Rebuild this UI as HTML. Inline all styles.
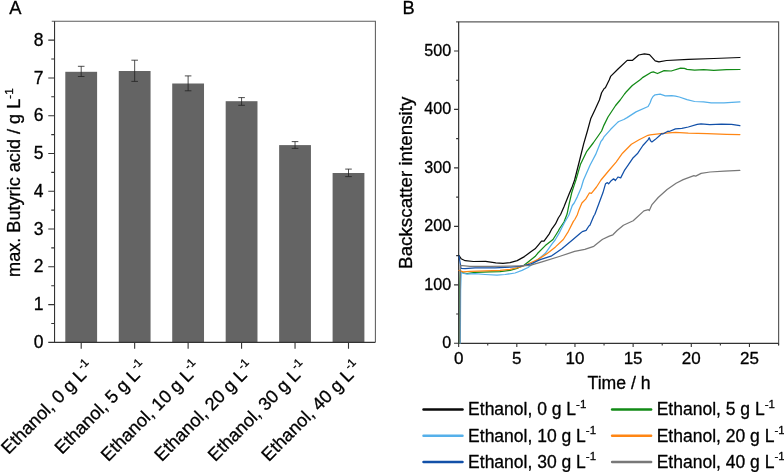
<!DOCTYPE html>
<html lang="en"><head><meta charset="utf-8"><title>Figure</title>
<style>html,body{margin:0;padding:0;background:#fff}svg{display:block}text{font-family:"Liberation Sans",Arial,Helvetica,sans-serif;fill:#000;stroke:#000;stroke-width:0.3px;stroke-linejoin:round}</style>
</head><body>
<svg width="784" height="472" viewBox="0 0 784 472">
<rect width="784" height="472" fill="#fff"/>
<text x="9.3" y="13.6" font-size="18.3">A</text>
<rect x="65.30" y="71.80" width="31.80" height="270.55" fill="#646464"/>
<rect x="118.76" y="71.00" width="31.80" height="271.35" fill="#646464"/>
<rect x="172.22" y="83.50" width="31.80" height="258.85" fill="#646464"/>
<rect x="225.68" y="101.20" width="31.80" height="241.15" fill="#646464"/>
<rect x="279.14" y="145.10" width="31.80" height="197.25" fill="#646464"/>
<rect x="332.60" y="173.00" width="31.80" height="169.35" fill="#646464"/>
<path d="M81.20 66.30V76.50M77.90 66.30h6.6M77.90 76.50h6.6" stroke="#222" stroke-width="0.8" fill="none"/>
<path d="M134.66 60.20V81.40M131.36 60.20h6.6M131.36 81.40h6.6" stroke="#222" stroke-width="0.8" fill="none"/>
<path d="M188.12 75.90V90.80M184.82 75.90h6.6M184.82 90.80h6.6" stroke="#222" stroke-width="0.8" fill="none"/>
<path d="M241.58 97.60V105.30M238.28 97.60h6.6M238.28 105.30h6.6" stroke="#222" stroke-width="0.8" fill="none"/>
<path d="M295.04 141.60V148.40M291.74 141.60h6.6M291.74 148.40h6.6" stroke="#222" stroke-width="0.8" fill="none"/>
<path d="M348.50 169.10V176.60M345.20 169.10h6.6M345.20 176.60h6.6" stroke="#222" stroke-width="0.8" fill="none"/>
<path d="M51.75 21.30H375.40V342.35" fill="none" stroke="#5c5c5c" stroke-width="1.05"/>
<path d="M54.55 21.30V342.35H375.40" fill="none" stroke="#333" stroke-width="1.1"/>
<text x="43.6" y="347.95" font-size="17.5" text-anchor="end">0</text>
<text x="43.6" y="310.18" font-size="17.5" text-anchor="end">1</text>
<text x="43.6" y="272.40" font-size="17.5" text-anchor="end">2</text>
<text x="43.6" y="234.63" font-size="17.5" text-anchor="end">3</text>
<text x="43.6" y="196.85" font-size="17.5" text-anchor="end">4</text>
<text x="43.6" y="159.08" font-size="17.5" text-anchor="end">5</text>
<text x="43.6" y="121.30" font-size="17.5" text-anchor="end">6</text>
<text x="43.6" y="83.53" font-size="17.5" text-anchor="end">7</text>
<text x="43.6" y="45.75" font-size="17.5" text-anchor="end">8</text>
<path d="M54.55 342.35h-6.3M54.55 323.46h-3.3M54.55 304.58h-6.3M54.55 285.69h-3.3M54.55 266.80h-6.3M54.55 247.91h-3.3M54.55 229.03h-6.3M54.55 210.14h-3.3M54.55 191.25h-6.3M54.55 172.36h-3.3M54.55 153.48h-6.3M54.55 134.59h-3.3M54.55 115.70h-6.3M54.55 96.81h-3.3M54.55 77.93h-6.3M54.55 59.04h-3.3M54.55 40.15h-6.3M81.20 342.35v6.3M134.66 342.35v6.3M188.12 342.35v6.3M241.58 342.35v6.3M295.04 342.35v6.3M348.50 342.35v6.3" stroke="#333" stroke-width="1.1" fill="none"/>
<text transform="translate(20.4 276.9) rotate(-90)" font-size="18.13">max. Butyric acid / g L<tspan dy="-7.5" font-size="11.7">-1</tspan></text>
<text transform="translate(94.80 368.7) rotate(-45)" font-size="18.1" text-anchor="end">Ethanol, 0 g L<tspan dy="-7.8" font-size="11.7">-1</tspan></text>
<text transform="translate(148.26 368.7) rotate(-45)" font-size="18.1" text-anchor="end">Ethanol, 5 g L<tspan dy="-7.8" font-size="11.7">-1</tspan></text>
<text transform="translate(201.72 368.7) rotate(-45)" font-size="18.1" text-anchor="end">Ethanol, 10 g L<tspan dy="-7.8" font-size="11.7">-1</tspan></text>
<text transform="translate(255.18 368.7) rotate(-45)" font-size="18.1" text-anchor="end">Ethanol, 20 g L<tspan dy="-7.8" font-size="11.7">-1</tspan></text>
<text transform="translate(308.64 368.7) rotate(-45)" font-size="18.1" text-anchor="end">Ethanol, 30 g L<tspan dy="-7.8" font-size="11.7">-1</tspan></text>
<text transform="translate(362.10 368.7) rotate(-45)" font-size="18.1" text-anchor="end">Ethanol, 40 g L<tspan dy="-7.8" font-size="11.7">-1</tspan></text>
<text x="402.5" y="13.7" font-size="18.3">B</text>
<path d="M456.05 21.85H778.60V345.30" fill="none" stroke="#5c5c5c" stroke-width="1.2"/>
<path d="M458.65 21.85V343.30H778.60" fill="none" stroke="#333" stroke-width="1.2"/>
<text x="451.1" y="348.00" font-size="16.1" text-anchor="end">0</text>
<text x="451.1" y="289.53" font-size="16.1" text-anchor="end">100</text>
<text x="451.1" y="231.06" font-size="16.1" text-anchor="end">200</text>
<text x="451.1" y="172.59" font-size="16.1" text-anchor="end">300</text>
<text x="451.1" y="114.12" font-size="16.1" text-anchor="end">400</text>
<text x="451.1" y="55.65" font-size="16.1" text-anchor="end">500</text>
<text x="458.65" y="364.2" font-size="17.0" text-anchor="middle">0</text>
<text x="516.81" y="364.2" font-size="17.0" text-anchor="middle">5</text>
<text x="574.97" y="364.2" font-size="17.0" text-anchor="middle">10</text>
<text x="633.13" y="364.2" font-size="17.0" text-anchor="middle">15</text>
<text x="691.29" y="364.2" font-size="17.0" text-anchor="middle">20</text>
<text x="749.45" y="364.2" font-size="17.0" text-anchor="middle">25</text>
<path d="M458.65 343.30h-4.6M458.65 314.06h-2.5M458.65 284.83h-4.6M458.65 255.60h-2.5M458.65 226.36h-4.6M458.65 197.12h-2.5M458.65 167.89h-4.6M458.65 138.66h-2.5M458.65 109.42h-4.6M458.65 80.19h-2.5M458.65 50.95h-4.6M458.65 343.30v3.6M487.73 343.30v2.3M516.81 343.30v3.6M545.89 343.30v2.3M574.97 343.30v3.6M604.05 343.30v2.3M633.13 343.30v3.6M662.21 343.30v2.3M691.29 343.30v3.6M720.37 343.30v2.3M749.45 343.30v3.6M778.53 343.30v2.3" stroke="#333" stroke-width="1.1" fill="none"/>
<text transform="translate(412 268.9) rotate(-90)" font-size="18.8">Backscatter intensity</text>
<text x="619.1" y="389.2" font-size="17.65" text-anchor="middle">Time / h</text>
<polyline points="459.0,255.5 461.1,258.7 465.2,260.7 473.4,261.5 485.6,261.4 495.8,262.8 503.0,263.4 510.1,262.7 517.2,260.6 524.4,256.6 530.5,252.0 535.1,248.8 538.9,244.3 541.5,241.1 544.0,241.1 549.1,234.1 551.9,228.8 555.5,223.9 558.3,218.0 560.6,214.5 564.0,206.8 569.1,194.0 572.3,186.4 574.6,180.0 579.8,159.5 583.6,144.2 587.4,131.0 590.7,118.8 595.2,109.3 599.4,100.0 601.6,92.8 604.2,88.5 605.4,87.7 609.2,80.0 610.6,76.4 618.3,68.7 627.2,60.4 632.3,60.4 638.7,55.0 644.4,53.8 649.5,54.7 655.2,60.9 658.9,61.9 666.6,60.5 688.3,59.4 713.8,58.5 739.9,57.5" fill="none" stroke="#0a0a0a" stroke-width="1.25" stroke-linejoin="round" stroke-linecap="round"/>
<polyline points="459.5,343.0 459.8,285.0 460.4,271.0 462.0,272.0 464.0,273.2 467.0,273.5 475.0,272.4 490.0,271.9 500.0,271.6 510.0,270.4 517.0,268.4 524.0,265.3 530.0,260.5 535.0,256.6 537.7,253.3 545.3,245.6 553.0,239.5 558.3,231.0 559.3,229.0 564.0,222.0 567.1,214.0 569.1,204.2 571.7,192.8 574.2,185.1 575.9,180.0 580.4,164.6 586.8,151.3 593.2,143.0 599.5,134.0 601.6,131.0 604.0,125.1 608.0,117.0 615.6,105.5 620.2,100.0 624.5,94.0 625.9,92.3 632.3,85.5 640.5,79.5 642.5,77.6 651.4,72.3 653.3,71.9 657.5,73.5 664.1,70.6 671.2,71.0 680.6,68.1 684.4,68.3 687.0,69.3 694.6,70.2 703.6,69.7 713.8,70.4 726.5,69.7 739.9,69.5" fill="none" stroke="#128a16" stroke-width="1.25" stroke-linejoin="round" stroke-linecap="round"/>
<polyline points="460.3,343.0 460.6,290.0 461.2,272.2 463.0,273.2 467.0,274.2 475.0,273.7 485.0,274.5 497.0,275.2 505.0,274.5 515.0,273.0 522.0,270.4 528.0,267.5 532.0,264.5 537.7,259.8 545.3,253.3 551.7,244.3 555.1,240.0 559.3,232.9 562.1,227.2 564.4,222.7 567.8,217.0 568.9,215.0 572.3,205.5 574.2,203.0 577.4,196.6 581.2,187.7 583.5,180.0 590.0,165.3 595.7,154.4 600.8,141.7 602.9,139.0 604.0,136.8 610.7,129.3 617.4,122.6 618.8,121.5 623.8,119.5 627.1,117.6 636.0,111.9 648.1,106.5 650.0,103.0 651.5,99.0 653.0,96.5 655.1,94.8 660.2,94.2 665.3,95.8 671.7,95.6 675.5,96.1 679.3,97.0 687.0,99.6 694.6,101.5 703.6,101.9 711.2,102.8 724.0,102.8 739.9,101.9" fill="none" stroke="#55b0ea" stroke-width="1.25" stroke-linejoin="round" stroke-linecap="round"/>
<polyline points="459.0,270.4 463.0,271.9 470.0,271.4 485.0,270.9 500.0,270.4 510.0,269.4 517.0,267.9 524.0,265.8 530.0,263.0 537.7,259.6 546.6,253.9 555.5,246.9 563.3,239.5 568.4,231.3 573.4,221.4 574.8,219.5 577.2,215.0 578.7,210.6 581.9,203.0 585.7,199.1 589.5,192.8 591.4,193.4 596.5,187.0 601.0,180.0 608.5,171.0 616.1,162.1 622.5,153.2 631.4,144.2 639.1,139.8 648.0,135.3 650.0,134.9 662.8,133.3 675.5,132.3 688.3,133.2 707.4,133.6 726.5,134.3 739.9,134.6" fill="none" stroke="#ff8614" stroke-width="1.25" stroke-linejoin="round" stroke-linecap="round"/>
<polyline points="459.0,256.0 460.0,262.0 461.0,268.4 465.0,268.7 475.0,267.9 495.0,267.9 510.0,267.1 520.0,266.3 530.0,264.2 540.2,259.6 551.7,255.8 561.9,248.8 572.1,240.3 580.0,233.6 582.3,231.6 586.1,230.3 588.9,226.0 589.9,225.2 593.8,216.0 594.8,214.5 599.1,203.0 602.9,192.8 605.5,183.8 607.4,182.6 608.6,183.8 610.6,181.3 613.6,178.8 615.4,180.5 618.0,177.0 620.7,177.9 624.3,170.7 627.6,165.9 632.7,158.3 637.8,153.2 642.9,145.5 648.0,139.8 649.3,137.7 650.5,140.8 651.9,141.9 655.1,139.6 660.0,135.3 661.5,133.6 662.8,134.0 667.9,131.2 669.1,131.5 675.5,128.9 681.9,128.3 688.3,127.0 697.2,124.4 701.0,123.8 709.9,124.7 721.4,124.1 731.6,124.4 739.9,125.7" fill="none" stroke="#1250a8" stroke-width="1.25" stroke-linejoin="round" stroke-linecap="round"/>
<polyline points="459.8,343.0 460.0,300.0 460.3,265.3 470.0,266.3 490.0,266.3 510.0,266.0 520.0,265.8 530.0,265.4 542.8,261.6 559.3,256.5 574.6,251.4 584.8,249.4 593.8,246.3 601.6,240.0 602.7,239.2 609.3,236.1 612.9,234.8 617.1,230.5 623.4,225.2 633.2,220.7 643.9,210.9 648.4,209.6 649.3,210.5 652.0,204.6 658.2,197.5 667.1,189.5 676.1,183.2 683.2,179.6 693.9,175.7 695.7,176.1 701.1,173.4 710.0,172.0 724.3,171.1 739.8,170.4" fill="none" stroke="#787878" stroke-width="1.25" stroke-linejoin="round" stroke-linecap="round"/>
<path d="M423.50 409.40h39" stroke="#0a0a0a" stroke-width="2.5" stroke-linecap="round" fill="none"/>
<text x="468.10" y="415.40" font-size="17.5">Ethanol, 0 g L<tspan dy="-7.6" font-size="11.5">-1</tspan></text>
<path d="M612.10 409.40h39" stroke="#128a16" stroke-width="2.5" stroke-linecap="round" fill="none"/>
<text x="656.70" y="415.40" font-size="17.5">Ethanol, 5 g L<tspan dy="-7.6" font-size="11.5">-1</tspan></text>
<path d="M423.50 435.70h39" stroke="#55b0ea" stroke-width="2.5" stroke-linecap="round" fill="none"/>
<text x="468.10" y="441.70" font-size="17.5">Ethanol, 10 g L<tspan dy="-7.6" font-size="11.5">-1</tspan></text>
<path d="M612.10 435.70h39" stroke="#ff8614" stroke-width="2.5" stroke-linecap="round" fill="none"/>
<text x="656.70" y="441.70" font-size="17.5">Ethanol, 20 g L<tspan dy="-7.6" font-size="11.5">-1</tspan></text>
<path d="M423.50 462.00h39" stroke="#1250a8" stroke-width="2.5" stroke-linecap="round" fill="none"/>
<text x="468.10" y="468.00" font-size="17.5">Ethanol, 30 g L<tspan dy="-7.6" font-size="11.5">-1</tspan></text>
<path d="M612.10 462.00h39" stroke="#787878" stroke-width="2.5" stroke-linecap="round" fill="none"/>
<text x="656.70" y="468.00" font-size="17.5">Ethanol, 40 g L<tspan dy="-7.6" font-size="11.5">-1</tspan></text>
</svg>
</body></html>
